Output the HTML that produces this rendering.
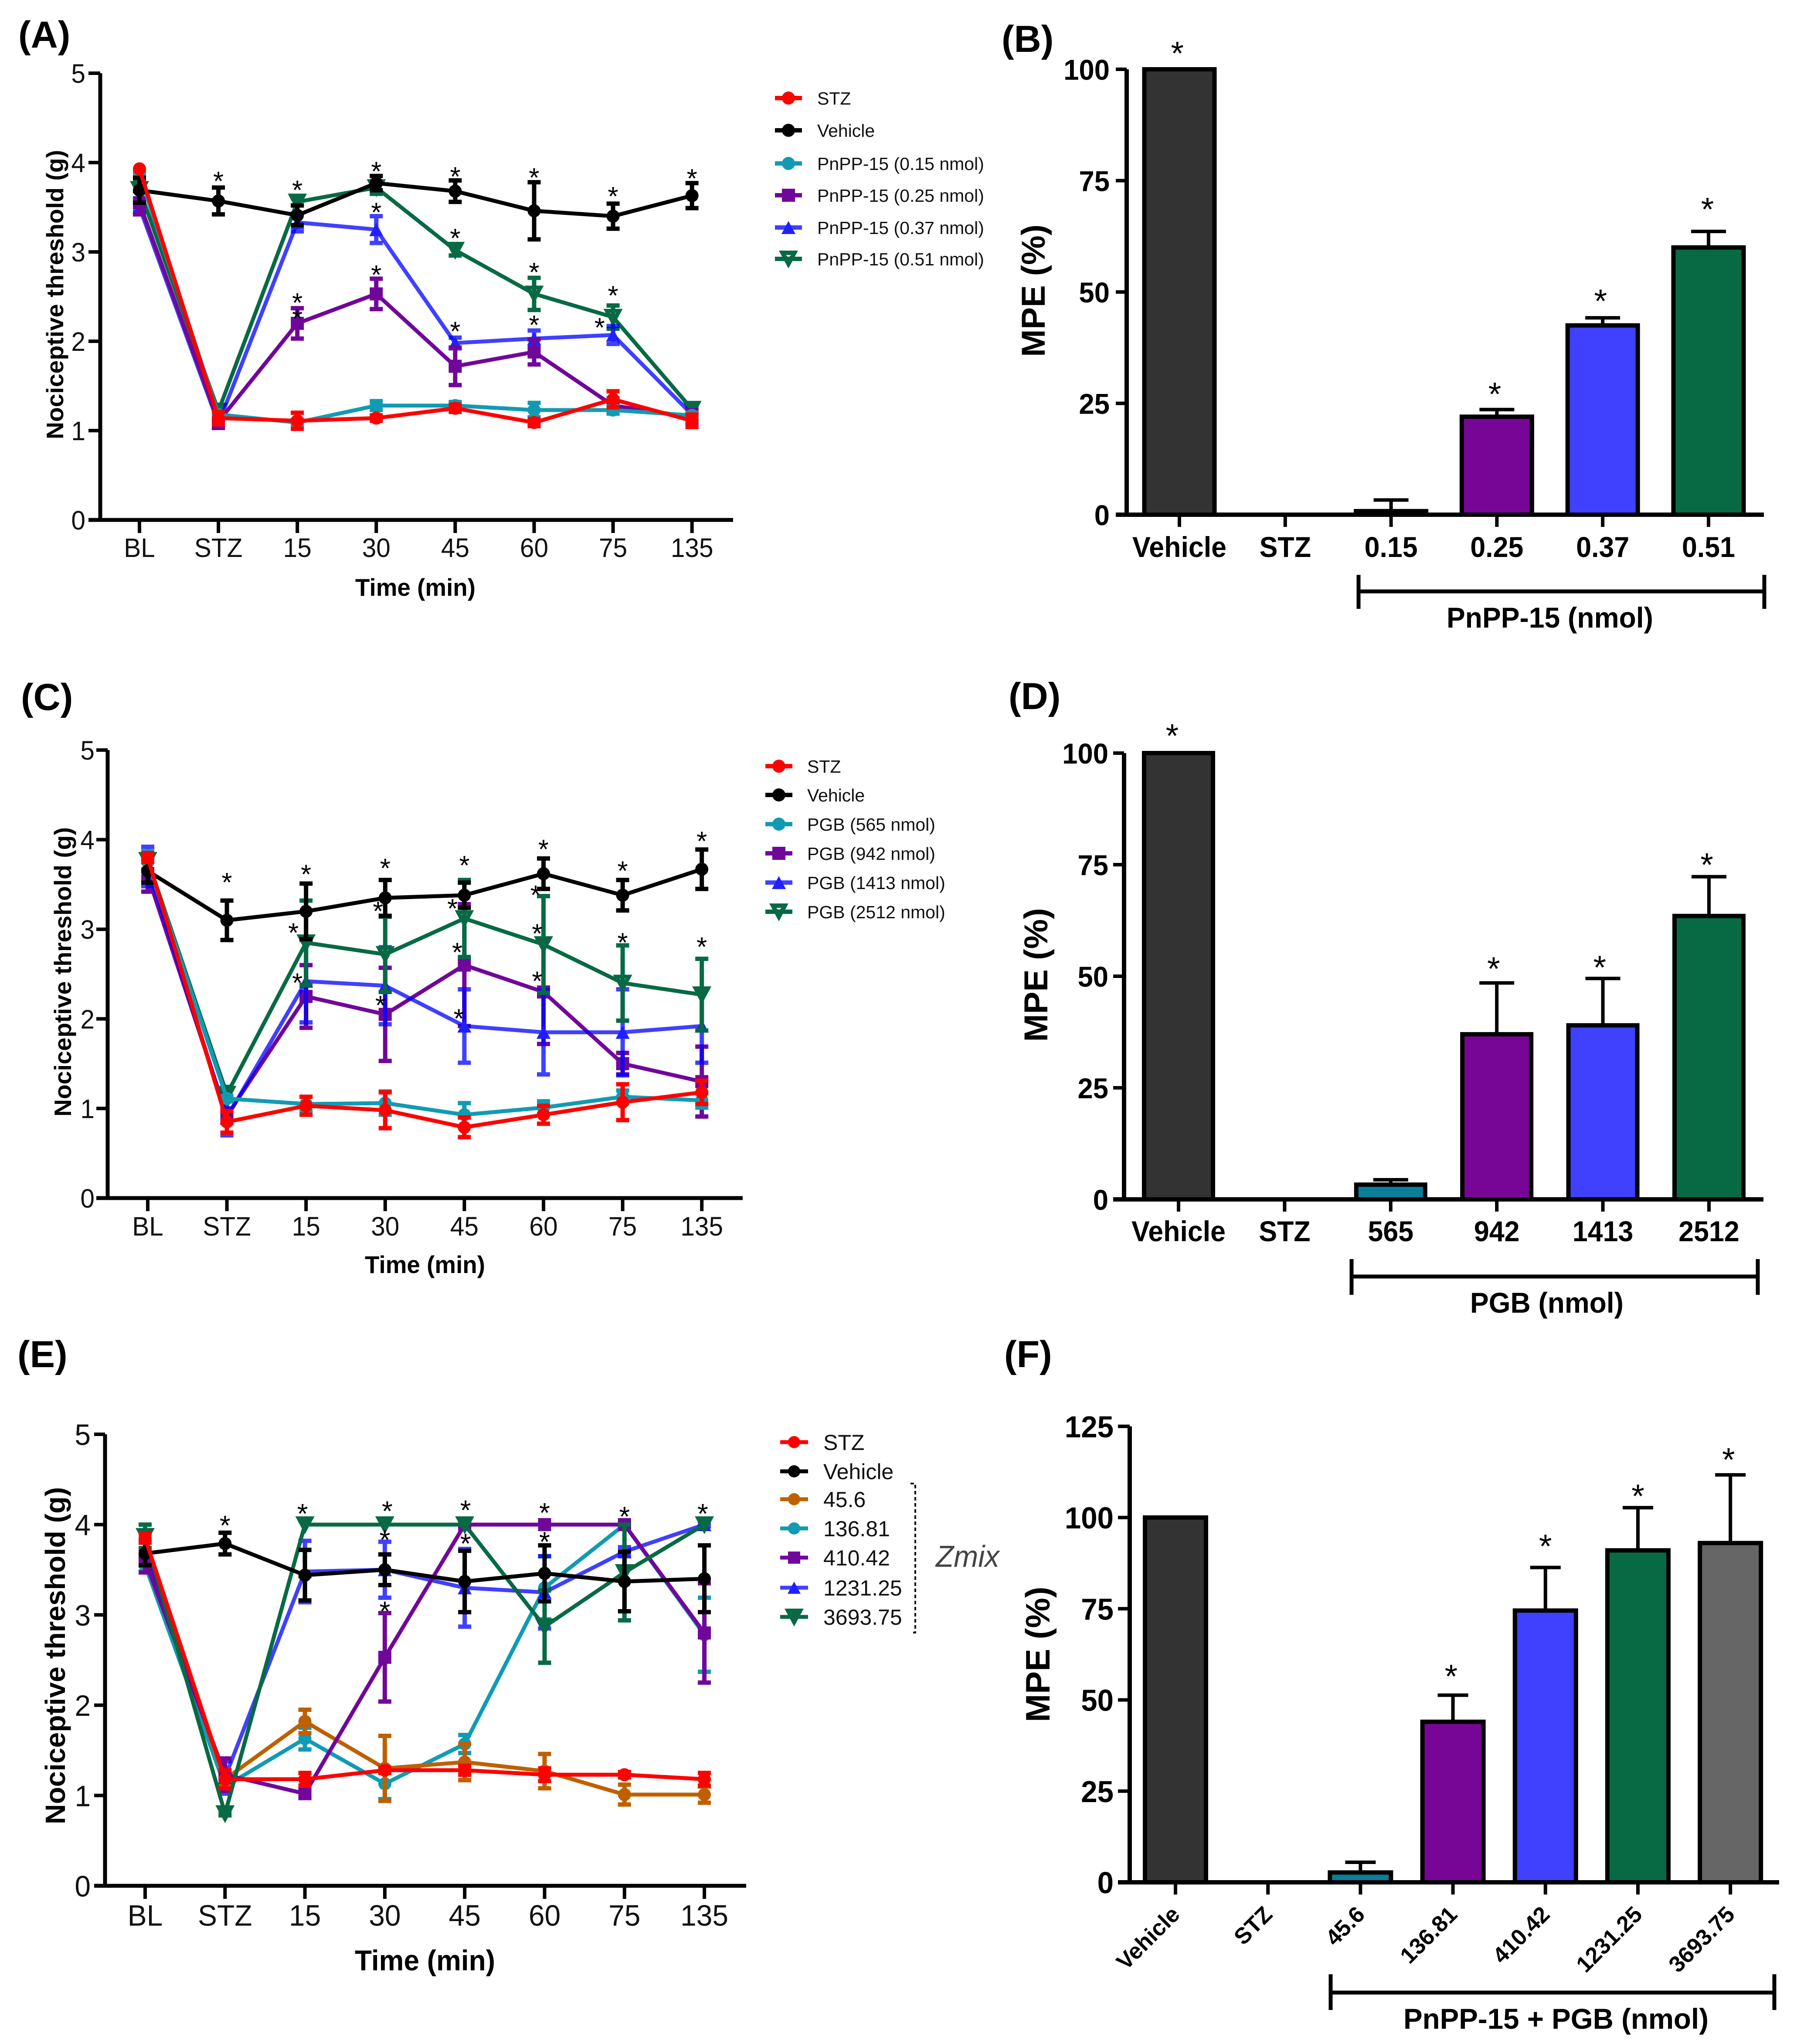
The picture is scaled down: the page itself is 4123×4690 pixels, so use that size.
<!DOCTYPE html>
<html lang="en">
<head>
<meta charset="utf-8">
<title>Nociceptive threshold and MPE panels</title>
<style>
html,body{margin:0;padding:0;background:#fff;}
svg{display:block;font-family:"Liberation Sans",Arial,sans-serif;}
.pl{font-weight:700;font-size:86px;fill:#000;}
.at{font-weight:700;fill:#000;}
.lg{font-size:41px;fill:#111;}
.lge{font-size:50px;fill:#111;}
</style>
</head>
<body>
<svg id="fig" xmlns="http://www.w3.org/2000/svg" width="4123" height="4690" viewBox="0 0 4123 4690">
<rect x="0" y="0" width="4123" height="4690" fill="#fff"/>

<text class="pl" x="42" y="109">(A)</text>
<text class="pl" x="2298" y="119">(B)</text>
<text class="pl" x="48" y="1629">(C)</text>
<text class="pl" x="2314" y="1627">(D)</text>
<text class="pl" x="40" y="3137">(E)</text>
<text class="pl" x="2304" y="3137">(F)</text>

<text class="at" x="953" y="1367" font-size="56" text-anchor="middle" textLength="276" lengthAdjust="spacingAndGlyphs">Time (min)</text>
<text class="at" x="975" y="2921" font-size="56" text-anchor="middle" textLength="276" lengthAdjust="spacingAndGlyphs">Time (min)</text>
<text class="at" x="975" y="4521" font-size="66" text-anchor="middle" textLength="322" lengthAdjust="spacingAndGlyphs">Time (min)</text>

<text class="at" transform="translate(145,676) rotate(-90)" font-size="55" text-anchor="middle" textLength="664" lengthAdjust="spacingAndGlyphs">Nociceptive threshold (g)</text>
<text class="at" transform="translate(163,2230) rotate(-90)" font-size="55" text-anchor="middle" textLength="664" lengthAdjust="spacingAndGlyphs">Nociceptive threshold (g)</text>
<text class="at" transform="translate(149,3799) rotate(-90)" font-size="64" text-anchor="middle" textLength="774" lengthAdjust="spacingAndGlyphs">Nociceptive threshold (g)</text>

<text class="at" transform="translate(2397,667) rotate(-90)" font-size="76" text-anchor="middle" textLength="304" lengthAdjust="spacingAndGlyphs">MPE (%)</text>
<text class="at" transform="translate(2403,2237) rotate(-90)" font-size="76" text-anchor="middle" textLength="307" lengthAdjust="spacingAndGlyphs">MPE (%)</text>
<text class="at" transform="translate(2408,3796) rotate(-90)" font-size="78" text-anchor="middle" textLength="311" lengthAdjust="spacingAndGlyphs">MPE (%)</text>

<!-- group brackets -->
<g stroke="#000" stroke-width="9" fill="none">
  <path d="M3117 1319V1397M3117 1357H4048M4048 1319V1397"/>
</g>
<text class="at" x="3556" y="1440" font-size="66" text-anchor="middle" textLength="474" lengthAdjust="spacingAndGlyphs">PnPP-15 (nmol)</text>
<g stroke="#000" stroke-width="9" fill="none">
  <path d="M3101 2889V2971M3101 2929H4033M4033 2889V2971"/>
</g>
<text class="at" x="3549" y="3012" font-size="66" text-anchor="middle" textLength="352" lengthAdjust="spacingAndGlyphs">PGB (nmol)</text>
<g stroke="#000" stroke-width="9" fill="none">
  <path d="M3053 4530V4612M3053 4572H4071M4071 4530V4612"/>
</g>
<text class="at" x="3570" y="4655" font-size="66" text-anchor="middle" textLength="700" lengthAdjust="spacingAndGlyphs">PnPP-15 + PGB (nmol)</text>

<!-- legend A -->
<g>
  <g transform="translate(1809,225)"><line x1="-31" x2="31" stroke="#f00" stroke-width="10"/><circle r="15" fill="#f00"/><text class="lg" x="66" y="15">STZ</text></g>
  <g transform="translate(1809,299)"><line x1="-31" x2="31" stroke="#000" stroke-width="10"/><circle r="15" fill="#000"/><text class="lg" x="66" y="15">Vehicle</text></g>
  <g transform="translate(1809,375)"><line x1="-31" x2="31" stroke="#119BB3" stroke-width="10"/><circle r="15" fill="#119BB3"/><text class="lg" x="66" y="15">PnPP-15 (0.15 nmol)</text></g>
  <g transform="translate(1809,448)"><line x1="-31" x2="31" stroke="#71079A" stroke-width="10"/><rect x="-15" y="-15" width="30" height="30" fill="#71079A"/><text class="lg" x="66" y="15">PnPP-15 (0.25 nmol)</text></g>
  <g transform="translate(1809,522)"><line x1="-31" x2="31" stroke="#4040FF" stroke-width="10"/><polygon points="-16,15 16,15 0,-15" fill="#2020FF"/><text class="lg" x="66" y="15">PnPP-15 (0.37 nmol)</text></g>
  <g transform="translate(1809,594)"><line x1="-31" x2="31" stroke="#076A44" stroke-width="10"/><path d="M-22 -19H22L0 22ZM-6 -9L0 -3L6 -9Z" fill="#076A44" fill-rule="evenodd"/><text class="lg" x="66" y="15">PnPP-15 (0.51 nmol)</text></g>
</g>

<!-- legend C -->
<g>
  <g transform="translate(1787,1758)"><line x1="-31" x2="31" stroke="#f00" stroke-width="10"/><circle r="15" fill="#f00"/><text class="lg" x="65" y="15">STZ</text></g>
  <g transform="translate(1787,1824)"><line x1="-31" x2="31" stroke="#000" stroke-width="10"/><circle r="15" fill="#000"/><text class="lg" x="65" y="15">Vehicle</text></g>
  <g transform="translate(1787,1891)"><line x1="-31" x2="31" stroke="#119BB3" stroke-width="10"/><circle r="15" fill="#119BB3"/><text class="lg" x="65" y="15">PGB (565 nmol)</text></g>
  <g transform="translate(1787,1958)"><line x1="-31" x2="31" stroke="#71079A" stroke-width="10"/><rect x="-15" y="-15" width="30" height="30" fill="#71079A"/><text class="lg" x="65" y="15">PGB (942 nmol)</text></g>
  <g transform="translate(1787,2025)"><line x1="-31" x2="31" stroke="#4040FF" stroke-width="10"/><polygon points="-16,15 16,15 0,-15" fill="#2020FF"/><text class="lg" x="65" y="15">PGB (1413 nmol)</text></g>
  <g transform="translate(1787,2092)"><line x1="-31" x2="31" stroke="#076A44" stroke-width="10"/><path d="M-22 -19H22L0 22ZM-6 -9L0 -3L6 -9Z" fill="#076A44" fill-rule="evenodd"/><text class="lg" x="65" y="15">PGB (2512 nmol)</text></g>
</g>

<!-- legend E -->
<g>
  <g transform="translate(1822,3309)"><line x1="-32" x2="32" stroke="#f00" stroke-width="9"/><circle r="14" fill="#f00"/><text class="lge" x="67" y="18">STZ</text></g>
  <g transform="translate(1822,3376)"><line x1="-32" x2="32" stroke="#000" stroke-width="9"/><circle r="14" fill="#000"/><text class="lge" x="67" y="18">Vehicle</text></g>
  <g transform="translate(1822,3440)"><line x1="-32" x2="32" stroke="#BF6000" stroke-width="9"/><circle r="14" fill="#BF6000"/><text class="lge" x="67" y="18">45.6</text></g>
  <g transform="translate(1822,3507)"><line x1="-32" x2="32" stroke="#119BB3" stroke-width="9"/><circle r="14" fill="#119BB3"/><text class="lge" x="67" y="18">136.81</text></g>
  <g transform="translate(1822,3574)"><line x1="-32" x2="32" stroke="#71079A" stroke-width="9"/><rect x="-14" y="-14" width="28" height="28" fill="#71079A"/><text class="lge" x="67" y="18">410.42</text></g>
  <g transform="translate(1822,3643)"><line x1="-32" x2="32" stroke="#4040FF" stroke-width="9"/><polygon points="-15,14 15,14 0,-14" fill="#2020FF"/><text class="lge" x="67" y="18">1231.25</text></g>
  <g transform="translate(1822,3710)"><line x1="-32" x2="32" stroke="#076A44" stroke-width="9"/><path d="M-22 -19H22L0 22Z" fill="#076A44"/><text class="lge" x="67" y="18">3693.75</text></g>
  <path d="M2089 3404H2100V3746H2089" fill="none" stroke="#000" stroke-width="4" stroke-dasharray="8 6"/>
  <text x="2220" y="3595" font-size="70" font-style="italic" fill="#444" text-anchor="middle" textLength="146" lengthAdjust="spacingAndGlyphs">Zmix</text>
</g>
</svg>

<script>
// ---------- shared categories and ticks ----------
const timeCategories = ['BL','STZ','15','30','45','60','75','135'];
const lineTickValues = [0,1,2,3,4,5];
const lineTickLabels = ['0','1','2','3','4','5'];
const mpeTickValues = [0,25,50,75,100];
const mpeTickLabels = ['0','25','50','75','100'];
const mpeTickValuesF = [0,25,50,75,100,125];
const mpeTickLabelsF = ['0','25','50','75','100','125'];

// ---------- panel A ----------
const aStz = [3.93,1.14,1.11,1.14,1.25,1.09,1.35,1.11];
const aStzErr = [0.0,0.07,0.09,0.03,0.04,0.04,0.09,0.07];
const aVehicle = [3.69,3.57,3.41,3.77,3.68,3.46,3.40,3.63];
const aVehicleErr = [0.14,0.15,0.11,0.08,0.12,0.32,0.14,0.14];
const aDose015 = [3.87,1.18,1.09,1.28,1.28,1.23,1.23,1.17];
const aDose015Err = [0.03,0.03,0.03,0.05,0.04,0.08,0.04,0.03];
const aDose025 = [3.55,1.10,2.20,2.53,1.72,1.88,1.28,1.15];
const aDose025Err = [0.13,0.07,0.17,0.17,0.21,0.14,0.08,0.08];
const aDose037 = [3.50,1.08,3.33,3.25,1.98,2.03,2.07,1.18];
const aDose037Err = [0.05,0.05,0.10,0.15,0.06,0.09,0.10,0.05];
const aDose051 = [3.70,1.22,3.56,3.72,3.02,2.53,2.27,1.24];
const aDose051Err = [0.10,0.05,0.04,0.07,0.06,0.18,0.13,0.04];
const aStarCats = [1,2,3,4,5,6,7, 4,5,6, 3,4,5,5.83, 2,2,3];
const aStarVals = [3.83,3.73,3.94,3.88,3.87,3.66,3.86, 3.19,2.81,2.55, 3.48,2.15,2.22,2.19, 2.47,2.29,2.78];

// ---------- panel C ----------
const cStz = [3.80,0.85,1.03,0.98,0.79,0.93,1.07,1.18];
const cStzErr = [0.05,0.12,0.10,0.20,0.11,0.10,0.20,0.13];
const cVehicle = [3.65,3.10,3.20,3.35,3.38,3.62,3.38,3.67];
const cVehicleErr = [0.13,0.22,0.31,0.20,0.14,0.17,0.17,0.22];
const cDose565 = [3.75,1.11,1.05,1.06,0.93,1.01,1.13,1.09];
const cDose565Err = [0.12,0.03,0.08,0.13,0.13,0.07,0.07,0.08];
const cDose942 = [3.60,0.92,2.25,2.05,2.60,2.30,1.50,1.30];
const cDose942Err = [0.18,0.08,0.35,0.52,0.68,0.58,0.12,0.39];
const cDose1413 = [3.70,0.90,2.42,2.37,1.92,1.85,1.85,1.92];
const cDose1413Err = [0.22,0.20,0.46,0.43,0.41,0.47,0.48,0.41];
const cDose2512 = [3.77,1.16,2.85,2.72,3.12,2.83,2.40,2.27];
const cDose2512Err = [0.10,0.08,0.47,0.42,0.43,0.54,0.42,0.40];
const cStarCats = [1,2,3,4,5,6,7, 1.84,2.91,3.85,4.9,4.92,6,7, 1.89,2.94,3.91,4.92, 3.93];
const cStarVals = [3.56,3.65,3.72,3.75,3.93,3.69,4.02, 3.0,3.24,3.27,3.42,2.99,2.89,2.84, 2.44,2.19,2.78,2.46, 2.04];

// ---------- panel E ----------
const eStz = [3.85,1.18,1.18,1.28,1.28,1.23,1.23,1.18];
const eStzErr = [0.05,0.10,0.07,0.03,0.05,0.07,0.03,0.07];
const eVehicle = [3.68,3.79,3.44,3.50,3.37,3.46,3.37,3.40];
const eVehicleErr = [0.13,0.12,0.28,0.17,0.34,0.31,0.33,0.37];
const eDose456 = [3.70,1.18,1.82,1.30,1.37,1.27,1.01,1.01];
const eDose456Err = [0.10,0.05,0.13,0.36,0.20,0.19,0.11,0.09];
const eDose13681 = [3.55,1.10,1.63,1.13,1.57,3.30,4.00,2.78];
const eDose13681Err = [0.07,0.05,0.12,0.17,0.10,0.35,0.02,0.41];
const eDose41042 = [3.60,1.23,1.02,2.53,4.00,4.00,4.00,2.80];
const eDose41042Err = [0.13,0.18,0.04,0.49,0.02,0.02,0.02,0.55];
const eDose123125 = [3.70,1.20,3.48,3.50,3.30,3.25,3.70,4.00];
const eDose123125Err = [0.10,0.18,0.34,0.31,0.43,0.40,0.05,0.02];
const eDose369375 = [3.87,0.80,4.00,4.00,4.00,2.87,3.47,4.00];
const eDose369375Err = [0.13,0.02,0.0,0.0,0.0,0.40,0.53,0.0];
const eStarCats = [1,1.97,3.03,4.01,5,6,6.98, 3,4.01,5, 3];
const eStarVals = [4.03,4.16,4.19,4.20,4.17,4.13,4.16, 3.87,3.83,3.85, 3.08];

// ---------- bar panels ----------
const bCategories = ['Vehicle','STZ','0.15','0.25','0.37','0.51'];
const bMeans = [100,0,0.8,22,42.5,60];
const bErrorTops = [100,0,3.3,23.6,44.2,63.6];
const bStarCats = [-0.02,2.98,3.98,4.99];
const bStarVals = [104.5,28,48.9,69.5];

const dCategories = ['Vehicle','STZ','565','942','1413','2512'];
const dMeans = [100,0,3.3,37,39,63.5];
const dErrorTops = [100,0,4.4,48.5,49.5,72.3];
const dStarCats = [-0.06,2.97,3.97,4.98];
const dStarVals = [104.8,52.6,52.9,75.9];

const fCategories = ['Vehicle','STZ','45.6','136.81','410.42','1231.25','3693.75'];
const fMeans = [100,0,2.7,44,74.5,91,93];
const fErrorTops = [100,0,5.5,51.3,86.3,102.7,111.7];
const fStarCats = [2.98,4,5,5.98];
const fStarVals = [57.6,93.3,107,117];

// ---------- drawing helpers ----------
const NS = 'http://www.w3.org/2000/svg';
const fig = document.getElementById('fig');
function mk(parent, tag, attrs) {
  const n = document.createElementNS(NS, tag);
  for (const k in attrs) n.setAttribute(k, attrs[k]);
  parent.appendChild(n);
  return n;
}
function drawStar(parent, x, y, size) {
  const t = mk(parent, 'text', {x: x, y: y + size * 0.47, 'font-size': size, 'text-anchor': 'middle', fill: '#000'});
  
  
  t.textContent = '*';
}
function drawMarker(g, s, x, y) {
  let m;
  if (s.shape === 'circle') {
    m = mk(g, 'circle', {cx: x, cy: y, r: 15, fill: s.color});
  } else if (s.shape === 'square') {
    m = mk(g, 'rect', {x: x - 15, y: y - 15, width: 30, height: 30, fill: s.color});
  } else if (s.shape === 'up') {
    m = mk(g, 'polygon', {points: (x-16)+','+(y+15)+' '+(x+16)+','+(y+15)+' '+x+','+(y-15), fill: s.dark || s.color});
  } else {
    const hole = s.hole ? ('M'+(x-7)+' '+(y-10)+'L'+x+' '+(y-2)+'L'+(x+7)+' '+(y-10)+'Z') : '';
    m = mk(g, 'path', {d: 'M'+(x-22)+' '+(y-19)+'H'+(x+22)+'L'+x+' '+(y+22)+'Z'+hole, fill: s.color, 'fill-rule': 'evenodd'});
  }
  
  
}

function drawLinePanel(p) {
  const X = i => p.xFirst + i * p.xStep;
  const Y = v => p.y0 - v * p.yUnit;
  const root = mk(fig, 'g', {});
  
  

  // series, back to front
  p.series.forEach(s => {
    const g = mk(root, 'g', {});
    
    
    const op = s.opacity || 1;
    s.vals.forEach((v, i) => {
      const x = X(i), e = s.errs[i];
      if (e <= 0) return;
      const eb = mk(g, 'path', {
        d: 'M'+x+' '+Y(v+e)+'V'+Y(v-e)+'M'+(x-15)+' '+Y(v+e)+'H'+(x+15)+'M'+(x-15)+' '+Y(v-e)+'H'+(x+15),
        stroke: s.stem || s.color, 'stroke-width': 10, fill: 'none', 'stroke-opacity': op
      });
      
      
    });
    const line = mk(g, 'polyline', {
      points: s.vals.map((v, i) => X(i) + ',' + Y(v)).join(' '),
      fill: 'none', stroke: s.stem || s.color, 'stroke-width': 9, 'stroke-linejoin': 'round', 'stroke-opacity': op
    });
    
    
    s.vals.forEach((v, i) => drawMarker(g, s, X(i), Y(v)));
  });

  // asterisks
  p.starCats.forEach((c, i) => drawStar(root, X(c), Y(p.starVals[i]), p.starSize));

  // axes
  const axis = mk(root, 'path', {
    d: 'M'+p.axL+' '+Y(p.yMax)+'V'+p.y0+'M'+(p.axL-p.tick)+' '+p.y0+'H'+p.axR,
    stroke: '#000', 'stroke-width': 9, fill: 'none', 'stroke-linecap': 'butt'
  });
  
  

  p.yTicks.forEach((v, i) => {
    const tick = mk(root, 'line', {x1: p.axL - p.tick, x2: p.axL, y1: Y(v), y2: Y(v), stroke: '#000', 'stroke-width': 8});
    
    
    const lab = mk(root, 'text', {transform: 'translate('+p.yLabelX+','+(Y(v) + p.font * 0.36)+') scale('+p.sx+',1)', 'font-size': p.font, 'text-anchor': 'end', fill: '#111'});
    
    
    lab.textContent = p.yLabels[i];
  });
  timeCategories.forEach((c, i) => {
    const tick = mk(root, 'line', {x1: X(i), x2: X(i), y1: p.y0, y2: p.y0 + 30, stroke: '#000', 'stroke-width': 8});
    
    
    const lab = mk(root, 'text', {transform: 'translate('+X(i)+','+(p.xLabelY + p.font * 0.36)+') scale('+p.sx+',1)', 'font-size': p.font, 'text-anchor': 'middle', fill: '#111'});
    
    
    lab.textContent = c;
  });
}

function drawBarPanel(p) {
  const X = i => p.xFirst + i * p.xStep;
  const Y = v => p.y0 - v * p.yUnit;
  const root = mk(fig, 'g', {});
  
  

  p.means.forEach((v, i) => {
    const x = X(i), top = p.errTops[i];
    if (top > v) {
      const eb = mk(root, 'path', {
        d: 'M'+x+' '+Y(v)+'V'+Y(top)+'M'+(x-p.capW/2)+' '+Y(top)+'H'+(x+p.capW/2),
        stroke: '#000', 'stroke-width': 8, fill: 'none'
      });
      
      
    }
    const b = mk(root, 'rect', {
      x: x - p.barW / 2 + 5, y: Y(v), width: p.barW - 10, height: Math.max(0, p.y0 - Y(v)),
      fill: p.fills[i], stroke: '#000', 'stroke-width': 10
    });
    
    
  });

  p.starCats.forEach((c, i) => drawStar(root, X(c), Y(p.starVals[i]), 76));

  const axis = mk(root, 'path', {
    d: 'M'+p.axL+' '+Y(p.yMax)+'V'+p.y0+'M'+(p.axL-p.tick)+' '+p.y0+'H'+p.axR,
    stroke: '#000', 'stroke-width': 10, fill: 'none'
  });
  
  

  p.yTicks.forEach((v, i) => {
    const tick = mk(root, 'line', {x1: p.axL - p.tick, x2: p.axL, y1: Y(v), y2: Y(v), stroke: '#000', 'stroke-width': 8});
    
    
    const lab = mk(root, 'text', {transform: 'translate('+p.yLabelX+','+(Y(v) + p.yFont * 0.36)+') scale(0.96,1)', 'font-size': p.yFont, 'font-weight': 700, 'text-anchor': 'end', fill: '#000'});
    
    
    lab.textContent = p.yLabels[i];
  });
  p.cats.forEach((c, i) => {
    const x = X(i);
    const tick = mk(root, 'line', {x1: x, x2: x, y1: p.y0, y2: p.y0 + 28, stroke: '#000', 'stroke-width': 8});
    
    
    const lab = p.rotated
      ? mk(root, 'text', {transform: 'translate('+(x+13)+','+p.xLabelY+') rotate(-45)', 'font-size': p.xFont, 'font-weight': 700, 'text-anchor': 'end', fill: '#000'})
      : mk(root, 'text', {transform: 'translate('+x+','+(p.xLabelY + p.xFont * 0.36)+') scale(0.95,1)', 'font-size': p.xFont, 'font-weight': 700, 'text-anchor': 'middle', fill: '#000'});
    
    
    lab.textContent = c;
  });
}

// ---------- panel assembly ----------
const TEAL = '#119BB3', PURPLE = '#71079A', GREEN = '#076A44', ORANGE = '#BF6000';
function blueSeries(name, vals, errs) {
  return {name: name, vals: vals, errs: errs, color: '#0000FF', stem: '#0000FF', opacity: 0.75, dark: '#2020FF', shape: 'up'};
}

drawLinePanel({
  id: 'a', xFirst: 320, xStep: 181.1, y0: 1193, yUnit: 205, yMax: 5, axL: 230, axR: 1682, tick: 27,
  font: 61, sx: 0.96, yLabelX: 196, xLabelY: 1256, starSize: 62, yTicks: lineTickValues, yLabels: lineTickLabels,
  starCats: aStarCats, starVals: aStarVals,
  series: [
    {name: 'pnpp-0-51', vals: aDose051, errs: aDose051Err, color: GREEN, shape: 'down', hole: true},
    blueSeries('pnpp-0-37', aDose037, aDose037Err),
    {name: 'pnpp-0-25', vals: aDose025, errs: aDose025Err, color: PURPLE, shape: 'square'},
    {name: 'pnpp-0-15', vals: aDose015, errs: aDose015Err, color: TEAL, shape: 'circle'},
    {name: 'vehicle', vals: aVehicle, errs: aVehicleErr, color: '#000', shape: 'circle'},
    {name: 'stz', vals: aStz, errs: aStzErr, color: '#f00', shape: 'circle'}
  ]
});
drawLinePanel({
  id: 'c', xFirst: 339, xStep: 181.6, y0: 2749, yUnit: 205.6, yMax: 5, axL: 247, axR: 1704, tick: 26,
  font: 61, sx: 0.96, yLabelX: 217, xLabelY: 2813, starSize: 62, yTicks: lineTickValues, yLabels: lineTickLabels,
  starCats: cStarCats, starVals: cStarVals,
  series: [
    {name: 'pgb-942', vals: cDose942, errs: cDose942Err, color: PURPLE, shape: 'square'},
    blueSeries('pgb-1413', cDose1413, cDose1413Err),
    {name: 'pgb-2512', vals: cDose2512, errs: cDose2512Err, color: GREEN, shape: 'down', hole: true},
    {name: 'pgb-565', vals: cDose565, errs: cDose565Err, color: TEAL, shape: 'circle'},
    {name: 'vehicle', vals: cVehicle, errs: cVehicleErr, color: '#000', shape: 'circle'},
    {name: 'stz', vals: cStz, errs: cStzErr, color: '#f00', shape: 'circle'}
  ]
});
drawLinePanel({
  id: 'e', xFirst: 333, xStep: 183.3, y0: 4327, yUnit: 207.2, yMax: 5, axL: 241, axR: 1712, tick: 25,
  font: 68, sx: 0.97, yLabelX: 208, xLabelY: 4394, starSize: 64, yTicks: lineTickValues, yLabels: lineTickLabels,
  starCats: eStarCats, starVals: eStarVals,
  series: [
    {name: 'zmix-136-81', vals: eDose13681, errs: eDose13681Err, color: TEAL, shape: 'circle'},
    {name: 'zmix-45-6', vals: eDose456, errs: eDose456Err, color: ORANGE, shape: 'circle'},
    blueSeries('zmix-1231-25', eDose123125, eDose123125Err),
    {name: 'zmix-410-42', vals: eDose41042, errs: eDose41042Err, color: PURPLE, shape: 'square'},
    {name: 'zmix-3693-75', vals: eDose369375, errs: eDose369375Err, color: GREEN, shape: 'down'},
    {name: 'vehicle', vals: eVehicle, errs: eVehicleErr, color: '#000', shape: 'circle'},
    {name: 'stz', vals: eStz, errs: eStzErr, color: '#f00', shape: 'circle'}
  ]
});
drawBarPanel({
  id: 'b', xFirst: 2706, xStep: 242.8, y0: 1181, yUnit: 10.22, yMax: 100, axL: 2585, axR: 4047, tick: 25,
  barW: 171, capW: 80, yFont: 66, xFont: 66, yLabelX: 2546, xLabelY: 1254,
  yTicks: mpeTickValues, yLabels: mpeTickLabels, cats: bCategories, means: bMeans, errTops: bErrorTops,
  fills: ['#333333','#0A7F99','#0A7F99','#770696','#4040FF','#076A44'], starCats: bStarCats, starVals: bStarVals
});
drawBarPanel({
  id: 'd', xFirst: 2704, xStep: 243.4, y0: 2752, yUnit: 10.24, yMax: 100, axL: 2579, axR: 4046, tick: 25,
  barW: 168, capW: 80, yFont: 66, xFont: 66, yLabelX: 2543, xLabelY: 2824,
  yTicks: mpeTickValues, yLabels: mpeTickLabels, cats: dCategories, means: dMeans, errTops: dErrorTops,
  fills: ['#333333','#0A7F99','#0A7F99','#770696','#4040FF','#076A44'], starCats: dStarCats, starVals: dStarVals
});
drawBarPanel({
  id: 'f', xFirst: 2697, xStep: 212.2, y0: 4319, yUnit: 8.37, yMax: 125, axL: 2592, axR: 4082, tick: 27,
  barW: 150, capW: 70, yFont: 70, xFont: 52, yLabelX: 2555, xLabelY: 4396, rotated: true,
  yTicks: mpeTickValuesF, yLabels: mpeTickLabelsF, cats: fCategories, means: fMeans, errTops: fErrorTops,
  fills: ['#333333','#0A7F99','#0A7F99','#770696','#4040FF','#076A44','#666666'], starCats: fStarCats, starVals: fStarVals
});
</script>
</body>
</html>
